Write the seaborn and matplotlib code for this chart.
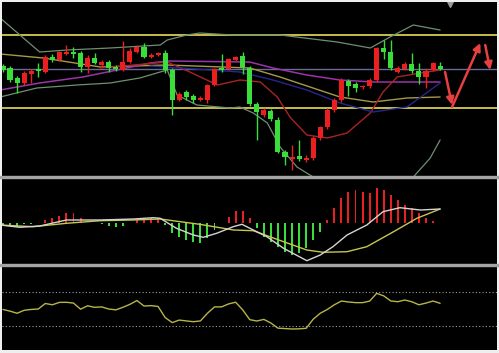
import numpy as np
import pandas as pd
import matplotlib
matplotlib.use("Agg")
import matplotlib.pyplot as plt
import seaborn as sns
from matplotlib.patches import Rectangle

# ---------------- data ----------------
open_ = [114,112,102,97,106,111,108,123,120,126,128,127,113,122,115,118,113,110,118,128,
         133,123,125,127,110,80,88,84,80,80,95,112,111,120,124,112,76,65,69,60,
         28,21,24,20,22,42,53,70,80,99,96,93,94,100,132,128,108,111,116,109,103,110,114]
close = [110,100,97,107,109,109,123,120,128,128,126,113,122,117,118,112,111,118,129,133,
         123,125,127,110,80,86,83,80,82,95,111,110,121,123,113,76,68,70,61,28,
         23,23,21,22,42,53,70,80,100,94,92,94,100,132,128,112,112,116,109,103,109,117,111]
high = [116,114,104,109,111,117,125,126,129,135,133,129,125,127,120,120,115,139,132,135,
        137,127,128,130,112,88,90,86,84,96,112,126,122,124,128,114,78,72,71,63,
        30,35,40,25,44,54,72,82,102,101,98,95,102,133,140,140,114,118,127,117,111,118,118]
low = [108,98,87,95,97,103,107,118,119,125,122,108,107,116,113,108,109,109,117,127,
       122,122,124,107,65,79,80,77,79,77,94,108,110,119,106,74,40,63,59,27,
       15,10,19,18,20,40,51,68,78,84,88,91,92,98,121,110,107,110,107,96,92,109,110]

# main-panel indicator lines (candle index, value)
upper_x = [-0.4,2.4,5.2,9.1,15.2,22.3,23.3,26.1,27.9,32.6,39.3,47.4,52.1,54.9,58.2,62]
upper_y = [162,145,128,130,132,135,140,145,147,145,145,138,132,143,155,150]
lower_x = [-0.4,4.8,10.5,15.2,19.4,22.3,23.3,24.7,27.5,32.2,33.6,35.5,37.5,39.3,41.7,44.0,48,53,58.2,60.6,62]
lower_y = [83,92,95,97,102,108,110,85,75,72,73,67,57,33,13,3,-15,-20,3,22,40]
olive_x = [-0.4,5.7,13.8,23.3,35.0,39.3,47.8,52.5,57.3,62]
olive_y = [126,122,113,115,112,103,83,78,82,83]
purple_x = [-0.4,5.2,11.3,16.2,20.9,23.3,35.0,38.3,43.1,47.8,52.5,62]
purple_y = [90,97,103,110,117,119,118,112,105,100,98,98]
dred_x = [13.8,23.3,26.5,30.4,33.6,36.5,38.9,40.7,43.1,46.0,48.8,52.1,53.9,55.9,60.1,62]
dred_y = [112,118,108,95,100,98,83,63,45,42,47,67,88,103,108,110]
navy_x = [20.9,33.6,38.3,43.1,47.8,52.5,57.3,62]
navy_y = [114,108,100,90,77,68,73,97]
hlines_yellow = [145, 72]
hline_mid = 111

# red arrows (start / end)
arrow_x0 = [62.7, 63.7, 68.4]
arrow_y0 = [108, 73, 135]
arrow_x1 = [63.7, 67.7, 69.1]
arrow_y1 = [75, 137, 110]

# MACD
macd_hist = [-3,-2,-4,-1,-0.5,0.5,3,5,7.6,10,10.6,5,0.5,0.5,-0.5,-2.3,-3.3,-2.3,0.5,3.3,
             3.3,5,5.7,-1.5,-10,-13.3,-16.7,-18.3,-20,-15,-6.7,0.5,6.7,12.3,12.3,5,-5,-13.3,-18.3,-23.3,
             -28.3,-31.7,-30,-25,-16.7,-8.3,3.3,15,25,31.7,33.3,31,30,35,33.3,28.3,23.3,18.3,15,10,5,2.3,0]
dif_x = [-0.4,2.4,5.2,9.0,13.8,18.5,21.3,22.3,24.6,27.0,28.4,30.3,32.7,33.9,35.5,37.4,39.8,43.1,45.0,46.8,48.8,51.6,53.9,56.3,59.2,62.0]
dif_y = [-1.7,-4,-2.7,3.3,3.3,4.3,5.6,5,-5,-11.7,-14,-10,-3.3,-1,-6.7,-13.3,-25,-37.4,-31.7,-23.4,-11.7,-1.7,11.6,15.6,13.3,14.3]
dea_x = [-0.4,4.3,9.0,13.8,18.5,22.3,27.9,32.7,35.5,39.8,43.1,45.4,48.8,51.6,55.4,58.7,62.0]
dea_y = [-1.7,-3.4,0,2.6,3.3,4.3,-1,-6.7,-7.4,-18.4,-26.7,-29,-28.4,-23.4,-8.4,5,14.3]

# RSI
rsi = [49.5,47.5,45,48.5,49.5,50,56.5,55,57.8,57.9,57,49.8,53.8,52,52.5,50,49,52,55.5,60,
       53.5,54,53,40,34,37,36,35.1,36,45,52.5,52.5,56,58,49,37.5,35.9,37.8,33.5,27.5,
       27,26.5,26.7,27.3,38,45,49.5,55,59.4,58.3,57.5,57.5,59.3,68.4,65.5,59.5,58.6,60.6,58.5,55,57,59.4,56.7]
rsi_levels = [70, 30]

# ---------------- style ----------------
sns.set_theme(style="dark", rc={"axes.facecolor": "black", "figure.facecolor": "#efefef"})
RED = "#ea2020"
GREEN = "#3ade3a"

W, H = 499, 353
fig = plt.figure(figsize=(W / 100, H / 100), dpi=100)

def axes_px(y0, y1):
    return fig.add_axes([2 / W, 1 - y1 / H, 495 / W, (y1 - y0) / H])

ax1 = axes_px(2, 176)
ax2 = axes_px(178, 264)
ax3 = axes_px(266, 350)
for a in (ax1, ax2, ax3):
    a.set_facecolor("black")
    a.set_xlim(-0.14, 70.07)
    a.set_xticks([]); a.set_yticks([])
    a.set_xlabel(""); a.set_ylabel("")
    for s in a.spines.values():
        s.set_visible(False)

# separators
for yy in (176, 264):
    fig.patches.append(Rectangle((0, 1 - (yy + 2) / H), 1, 2 / H, transform=fig.transFigure,
                                 color="#a4a4a4", zorder=5))

# ---------------- main panel ----------------
df = pd.DataFrame({"i": np.arange(len(open_)), "open": open_, "close": close, "high": high, "low": low})
df["col"] = np.where(df["close"] >= df["open"], RED, GREEN)
ax1.set_ylim(4, 178)

for y in hlines_yellow:
    ax1.axhline(y, color="#d8cc50", lw=1.3, zorder=1)
ax1.axhline(hline_mid, color="#6a6a96", lw=1.0, zorder=1)

line_specs = [(upper_x, upper_y, "#6f8f72", 0.9), (lower_x, lower_y, "#6f8f72", 0.9),
              (olive_x, olive_y, "#a89848", 1.0), (purple_x, purple_y, "#9a34a8", 1.1),
              (dred_x, dred_y, "#a82424", 1.0), (navy_x, navy_y, "#262690", 1.0)]
for xs, ys, c, lw in line_specs:
    sns.lineplot(x=xs, y=ys, ax=ax1, color=c, linewidth=lw, sort=False, estimator=None, zorder=2)

ax1.vlines(df["i"], df["low"], df["high"], colors=df["col"], linewidth=1.0, zorder=3)
body_lo = np.minimum(df["open"], df["close"])
body_h = np.maximum(np.abs(df["close"] - df["open"]), 1.3)
ax1.bar(df["i"], body_h, bottom=body_lo, width=0.72, color=df["col"], linewidth=0, zorder=4)

for x0, y0, x1, y1 in zip(arrow_x0, arrow_y0, arrow_x1, arrow_y1):
    ax1.annotate("", xy=(x1, y1), xytext=(x0, y0),
                 arrowprops=dict(arrowstyle="-|>", color="#e84040", lw=1.8, mutation_scale=11,
                                 shrinkA=0, shrinkB=0), zorder=5)
ax1.plot([63.4], [176], marker="v", color="#9a9a9a", markersize=5, linestyle="none", zorder=5)

# ---------------- MACD panel ----------------
ax2.set_ylim(-40.7, 45.3)
hist = np.array(macd_hist)
hcol = np.where(hist > 0, RED, GREEN)
ax2.bar(np.arange(len(hist)), hist, width=0.28, color=hcol, linewidth=0, zorder=2)
sns.lineplot(x=dea_x, y=dea_y, ax=ax2, color="#c8c650", linewidth=1.0, sort=False, estimator=None, zorder=3)
sns.lineplot(x=dif_x, y=dif_y, ax=ax2, color="#d4d4d4", linewidth=1.0, sort=False, estimator=None, zorder=3)

# ---------------- RSI panel ----------------
ax3.set_ylim(1.8, 100.6)
for lv in rsi_levels:
    ax3.axhline(lv, color="#a0a0a0", lw=0.8, linestyle=(0, (1, 2)), zorder=1)
sns.lineplot(x=np.arange(len(rsi)), y=rsi, ax=ax3, color="#b8b448", linewidth=1.0, zorder=2)

for a in (ax1, ax2, ax3):
    a.set_xticks([]); a.set_yticks([])
    a.set_xlabel(""); a.set_ylabel("")
    a.set_xlim(-0.14, 70.07)

fig.savefig("out.png", dpi=100, facecolor=fig.get_facecolor())
